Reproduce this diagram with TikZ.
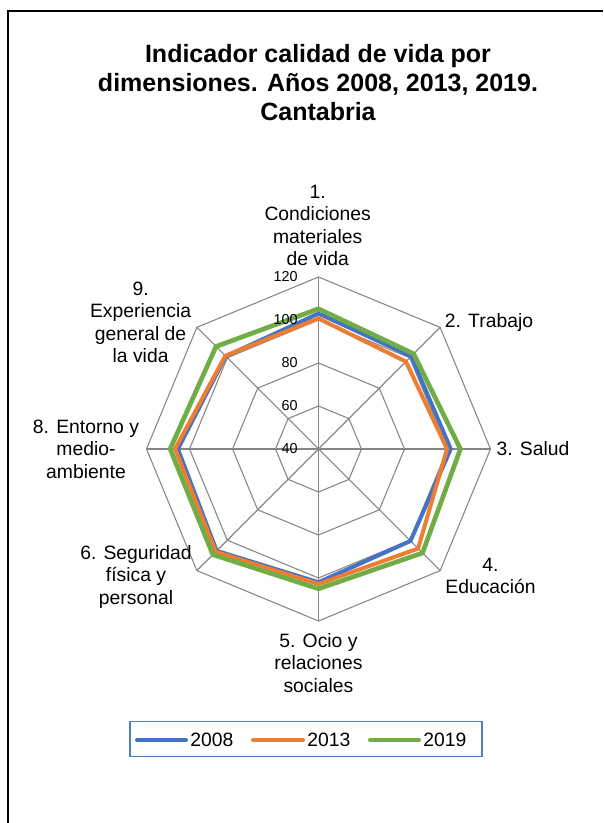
\documentclass[tikz,border=0pt]{standalone}
\usepackage{fontspec}
\setmainfont{Liberation Sans}
\usepackage{xcolor}

\definecolor{c2008}{RGB}{68,114,196}
\definecolor{c2013}{RGB}{237,125,49}
\definecolor{c2019}{RGB}{112,173,71}
\definecolor{gridgray}{RGB}{134,134,134}
\definecolor{legendblue}{RGB}{79,129,189}

\tikzset{
  gridline/.style={color=gridgray, line width=0.8pt},
  serie/.style={line width=3pt, line join=round, line cap=round},
  dimlabel/.style={align=center, inner sep=0pt, font=\fontsize{14.5pt}{16.9pt}\selectfont},
  ticklabel/.style={anchor=east, inner sep=0pt, font=\fontsize{10.8pt}{13pt}\selectfont},
  legendlabel/.style={anchor=west, inner sep=0pt, font=\fontsize{14.5pt}{16.9pt}\selectfont},
  titlelabel/.style={align=center, inner sep=0pt, font=\bfseries\fontsize{18.75pt}{21.75pt}\selectfont}
}

\begin{document}
\begin{tikzpicture}[x=0.75pt, y=0.75pt]
            \useasboundingbox (0,0) rectangle (603,823);
            \fill[white] (0,0) rectangle (603,823);
            \draw[line width=1.5pt] (8,0) -- (8,812) -- (603,812);

            \node[titlelabel] (titulo) at (318, 740.5) {Indicador calidad de vida por\\dimensiones. Años 2008, 2013, 2019.\\Cantabria};

            \begin{scope}[shift={(318.5,374)}]
                \coordinate (centro) at (0,0);
                \foreach \v in {60,80,100,120} {
                    \draw[gridline] (90:{(\v-40)*2.15}) -- (45:{(\v-40)*2.15}) -- (0:{(\v-40)*2.15}) -- (-45:{(\v-40)*2.15})
                        -- (-90:{(\v-40)*2.15}) -- (-135:{(\v-40)*2.15}) -- (180:{(\v-40)*2.15}) -- (135:{(\v-40)*2.15}) -- cycle;
                }
                \foreach \a [count=\k] in {90,45,0,-45,-90,-135,180,135} {
                    \coordinate (eje\k) at (\a:172);
                    \draw[gridline] (centro) -- (eje\k);
                }

                \foreach \col/\w/\r in {c2008/3pt/{103,101,101.5,100.5,102,107,105.4,101},
                                       c2013/3pt/{100.7,97.5,99.8,105.5,102.8,107.6,106.7,101.3},
                                       c2019/3.5pt/{105.2,102.6,106,108.4,105,109.5,109,107.4}} {
                    \foreach \v [count=\k] in \r {
                        \pgfmathsetmacro{\ang}{135-45*\k}
                        \coordinate (\col-\k) at (\ang:{(\v-40)*2.15});
                    }
                    \draw[serie, \col, line width=\w] (\col-1) -- (\col-2) -- (\col-3) -- (\col-4) -- (\col-5) -- (\col-6) -- (\col-7) -- (\col-8) -- cycle;
                }

                \foreach \v in {40,60,80,100,120}
                    \node[ticklabel] (tick\v) at (-20.5, {(\v-40)*2.15}) {\v};
            \end{scope}

            \node[dimlabel] (dim1) at (317.7, 597.5) {1.\\Condiciones\\materiales\\de vida};
            \node[dimlabel] (dim2) at (489, 500.3) {2. Trabajo};
            \node[dimlabel] (dim3) at (533, 374) {3. Salud};
            \node[dimlabel] (dim4) at (490.5, 247.2) {4.\\Educación};
            \node[dimlabel] (dim5) at (318.5, 160.3) {5. Ocio y\\relaciones\\sociales};
            \node[dimlabel] (dim6) at (136, 246) {6. Seguridad\\física y\\personal};
            \node[dimlabel] (dim8) at (86, 373.7) {8. Entorno y\\medio-\\ambiente};
            \node[dimlabel] (dim9) at (140.6, 500.8) {9.\\Experiencia\\general de\\la vida};

            \draw[legendblue, line width=0.8pt] (130,66.3) rectangle (482,101.3);
            \draw[serie, c2008] (137,83) -- (186,83);
            \node[legendlabel] (ley2008) at (190,83) {2008};
            \draw[serie, c2013] (253,83) -- (303,83);
            \node[legendlabel] (ley2013) at (307,83) {2013};
            \draw[serie, c2019] (370,83) -- (419,83);
            \node[legendlabel] (ley2019) at (423,83) {2019};
        \end{tikzpicture}
\end{document}
